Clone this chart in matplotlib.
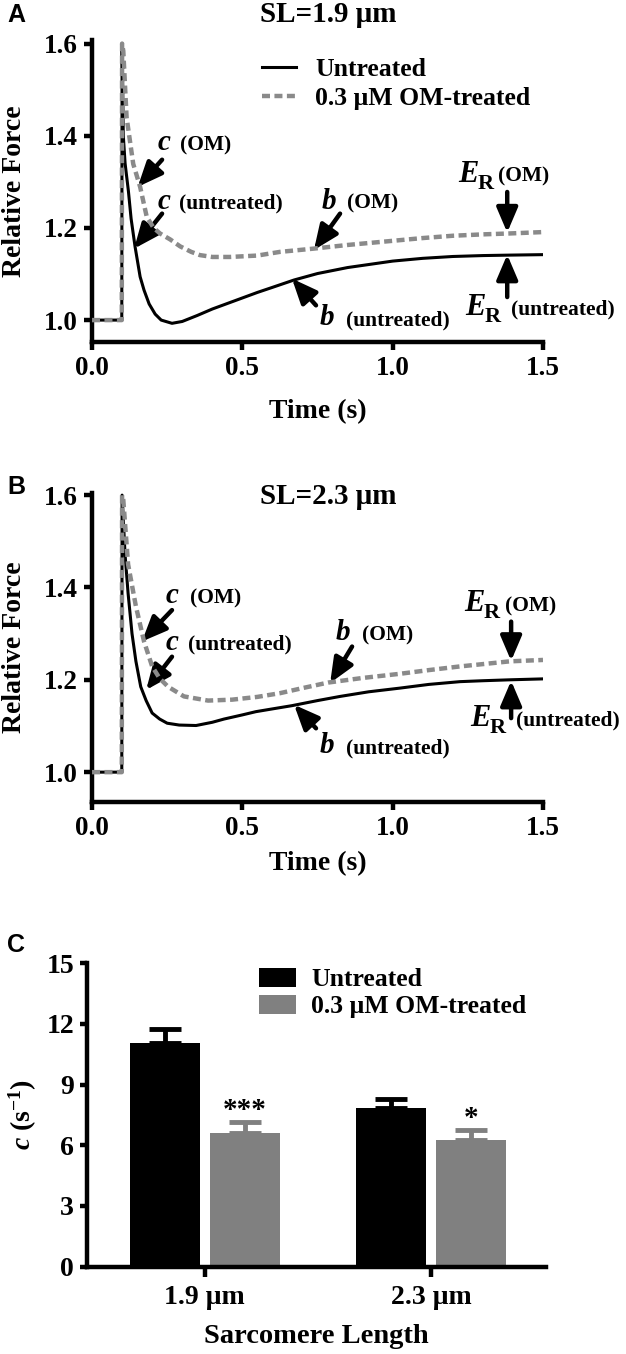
"""
Force transients after a stretch at two sarcomere lengths (A, B), untreated vs
0.3 uM OM-treated, and the rate constant c of the fast decay phase (C).
"""
import matplotlib
matplotlib.use("Agg")
import matplotlib.pyplot as plt

# ---- panel A traces, SL = 1.9 um
A_T_UN = [0, 0.099, 0.1, 0.104, 0.11, 0.121, 0.13, 0.143, 0.16, 0.173, 0.19, 0.21,
          0.23, 0.266, 0.3, 0.35, 0.4, 0.45, 0.5, 0.55, 0.6, 0.672, 0.75, 0.85, 1.0,
          1.1, 1.2, 1.3, 1.39, 1.5]
A_F_UN = [1.0, 1.0, 1.6, 1.40, 1.34, 1.28, 1.22, 1.16, 1.094, 1.065, 1.035, 1.013,
          1.0, 0.993, 0.997, 1.010, 1.024, 1.036, 1.048, 1.060, 1.071, 1.087, 1.101,
          1.114, 1.128, 1.134, 1.138, 1.140, 1.141, 1.142]
A_T_OM = [0, 0.099, 0.1, 0.104, 0.115, 0.137, 0.16, 0.182, 0.205, 0.226, 0.26, 0.293,
          0.33, 0.359, 0.4, 0.459, 0.55, 0.625, 0.736, 0.85, 1.0, 1.1, 1.2, 1.3, 1.39, 1.5]
A_F_OM = [1.0, 1.0, 1.6, 1.584, 1.44, 1.339, 1.289, 1.224, 1.20, 1.188, 1.175, 1.160,
          1.148, 1.141, 1.137, 1.137, 1.140, 1.148, 1.155, 1.163, 1.172, 1.178, 1.183,
          1.186, 1.188, 1.191]

# ---- panel B traces, SL = 2.3 um
B_T_UN = [0, 0.099, 0.1, 0.11, 0.12, 0.133, 0.146, 0.162, 0.18, 0.2, 0.225, 0.25,
          0.29, 0.346, 0.4, 0.439, 0.5, 0.545, 0.6, 0.665, 0.75, 0.825, 0.92, 1.024,
          1.12, 1.224, 1.3, 1.39, 1.5]
B_F_UN = [1.0, 1.0, 1.6, 1.47, 1.387, 1.30, 1.24, 1.185, 1.155, 1.128, 1.115, 1.106,
          1.102, 1.101, 1.108, 1.115, 1.124, 1.131, 1.137, 1.144, 1.155, 1.164, 1.174,
          1.182, 1.190, 1.196, 1.198, 1.200, 1.202]
B_T_OM = [0, 0.099, 0.1, 0.104, 0.12, 0.146, 0.173, 0.2, 0.225, 0.253, 0.306, 0.386,
          0.466, 0.55, 0.625, 0.7, 0.785, 0.9, 1.024, 1.12, 1.224, 1.3, 1.39, 1.5]
B_F_OM = [1.0, 1.0, 1.6, 1.59, 1.45, 1.359, 1.283, 1.229, 1.203, 1.185, 1.164, 1.155,
          1.157, 1.163, 1.171, 1.182, 1.194, 1.204, 1.213, 1.221, 1.229, 1.234, 1.24, 1.243]

# ---- panel C: rate constant c (s^-1), mean and SEM
SL_LABELS = ["1.9 \u03bcm", "2.3 \u03bcm"]
C_UN = [11.08, 7.83]
C_UN_ERR = [0.66, 0.45]
C_OM = [6.63, 6.27]
C_OM_ERR = [0.54, 0.49]
STARS = ["***", "*"]

SERIES = ["Untreated", "0.3 \u03bcM OM-treated"]
T_TICKS = [0.0, 0.5, 1.0, 1.5]
F_TICKS = [1.0, 1.2, 1.4, 1.6]
C_TICKS = [0, 3, 6, 9, 12, 15]

# annotation spots (data coords): letter x, text x, baseline y, arrow tail, arrow head
A_NOTES = [("c", "(OM)", 0.219, 0.293, 1.368, (0.233, 1.348), (0.152, 1.289)),
           ("c", "(untreated)", 0.219, 0.290, 1.242, (0.233, 1.231), (0.140, 1.155)),
           ("b", "(OM)", 0.765, 0.848, 1.242, (0.825, 1.231), (0.738, 1.152)),
           ("b", "(untreated)", 0.758, 0.845, 0.989, (0.745, 1.032), (0.665, 1.090))]
B_NOTES = [("c", "(OM)", 0.246, 0.326, 1.366, (0.266, 1.351), (0.166, 1.283)),
           ("c", "(untreated)", 0.246, 0.319, 1.265, (0.266, 1.250), (0.180, 1.178)),
           ("b", "(OM)", 0.811, 0.898, 1.286, (0.865, 1.272), (0.792, 1.193)),
           ("b", "(untreated)", 0.758, 0.845, 1.041, (0.745, 1.095), (0.672, 1.146))]
# E_R: E x, text x, baseline y, arrow x, tail y, head y
A_ER = [("(OM)", 1.217, 1.352, 1.300, 1.381, 1.278, 1.190),
        ("(untreated)", 1.240, 1.392, 1.012, 1.381, 1.050, 1.142)]
B_ER = [("(OM)", 1.237, 1.372, 1.348, 1.394, 1.326, 1.241),
        ("(untreated)", 1.257, 1.410, 1.100, 1.394, 1.117, 1.198)]

GREY = "#8a8a8a"
BAR_GREY = "#808080"

plt.rcParams.update({"font.family": "Liberation Serif", "font.weight": "bold",
                     "axes.labelweight": "bold",
                     "mathtext.fontset": "custom",
                     "mathtext.it": "Liberation Serif:italic:bold",
                     "mathtext.rm": "Liberation Serif:bold",
                     "mathtext.bf": "Liberation Serif:bold"})

ARROW = dict(arrowstyle="-|>,head_length=0.75,head_width=0.32", lw=3.2, color="k",
             shrinkA=0, shrinkB=0, mutation_scale=20)


def style(ax, size=19.5, ylen=6):
    for s in ("top", "right"):
        ax.spines[s].set_visible(False)
    for s in ("left", "bottom"):
        ax.spines[s].set_linewidth(3.2)
    ax.tick_params(axis="both", width=3.2, labelsize=size, pad=4.5)
    ax.tick_params(axis="y", length=ylen)
    ax.tick_params(axis="x", length=6)


def trace_panel(ax, t_un, f_un, t_om, f_om, ylim, notes, er, xlab_y):
    ax.plot(t_un, f_un, color="k", lw=2.2, zorder=3, label=SERIES[0])
    ax.plot(t_om, f_om, color=GREY, lw=3.2, dashes=(1.8, 1.0), zorder=4, label=SERIES[1])
    ax.set_xlim(0, 1.5)
    ax.set_ylim(*ylim)
    ax.set_xticks(T_TICKS, [f"{v:.1f}" for v in T_TICKS])
    ax.set_yticks(F_TICKS, [f"{v:.1f}" for v in F_TICKS])
    style(ax)
    ax.set_xlabel("Time (s)", fontsize=20, va="center")
    ax.xaxis.set_label_coords(0.5, xlab_y)
    ax.set_ylabel("Relative Force", fontsize=20, va="center")
    ax.yaxis.set_label_coords(-0.171, 0.5)
    for letter, txt, lx, tx, y, tail, head in notes:
        ax.text(lx, y, letter, fontsize=21, style="italic", va="baseline")
        ax.text(tx, y, txt, fontsize=15.5, va="baseline")
        ax.annotate("", xy=head, xytext=tail, arrowprops=ARROW)
    for txt, ex, tx, y, ax_x, y0, y1 in er:
        ax.text(ex, y, "E", fontsize=22, style="italic", va="baseline")
        ax.annotate("R", xy=(ex, y), xytext=(14, -5), textcoords="offset points",
                    fontsize=16, va="baseline")
        ax.text(tx, y, txt, fontsize=15.5, va="baseline")
        ax.annotate("", xy=(ax_x, y1), xytext=(ax_x, y0), arrowprops=ARROW)


fig = plt.figure(figsize=(6.26, 13.54), dpi=100)
axA = fig.add_axes([0.147, 0.7476, 0.7204, 0.2226])
axB = fig.add_axes([0.147, 0.4079, 0.7204, 0.2278])
axC = fig.add_axes([0.1393, 0.0645, 0.7329, 0.2241])

# ---- A
trace_panel(axA, A_T_UN, A_F_UN, A_T_OM, A_F_OM, (0.953, 1.607), A_NOTES, A_ER, -0.232)
axA.legend(loc="upper left", bbox_to_anchor=(0.378, 0.94), frameon=False,
           prop={"weight": "bold", "size": 18.5}, handlelength=1.3, handletextpad=0.75,
           borderpad=0, borderaxespad=0, labelspacing=0.22)
fig.text(0.524, 0.989, "SL=1.9 \u03bcm", fontsize=21, ha="center", va="center")

# ---- B
trace_panel(axB, B_T_UN, B_F_UN, B_T_OM, B_F_OM, (0.936, 1.604), B_NOTES, B_ER, -0.200)
fig.text(0.524, 0.6332, "SL=2.3 \u03bcm", fontsize=21, ha="center", va="center")

# ---- C
x = [0, 1]
w, off = 0.31, 0.177
xu = [i - off for i in x]
xo = [i + off for i in x]
axC.bar(xu, C_UN, w, color="k", label=SERIES[0], zorder=2)
axC.bar(xo, C_OM, w, color=BAR_GREY, label=SERIES[1], zorder=2)
axC.errorbar(xu, C_UN, yerr=[[0, 0], C_UN_ERR], fmt="none", ecolor="k",
             elinewidth=3.5, capsize=11.5, capthick=3.5, zorder=1)
axC.errorbar(xo, C_OM, yerr=[[0, 0], C_OM_ERR], fmt="none", ecolor=BAR_GREY,
             elinewidth=3.5, capsize=11.5, capthick=3.5, zorder=1)
for xi, v, e, s in zip(xo, C_OM, C_OM_ERR, STARS):
    axC.text(xi, v + e + 0.55, s, fontsize=21, ha="center", va="center")
axC.set_xlim(-0.519, 1.507)
axC.set_ylim(0, 15)
axC.set_xticks(x, SL_LABELS)
axC.set_yticks(C_TICKS)
style(axC, size=20, ylen=5)
axC.tick_params(axis="x", length=7, pad=6)
axC.set_xlabel("Sarcomere Length", fontsize=20.5, va="center")
axC.xaxis.set_label_coords(0.5, -0.231)
axC.set_ylabel("$c$ (s$^{-1}$)", fontsize=20, va="center")
axC.yaxis.set_label_coords(-0.14, 0.5)
axC.legend(loc="upper left", bbox_to_anchor=(0.374, 0.985), frameon=False,
           prop={"weight": "bold", "size": 18.5}, handlelength=1.43, handleheight=0.75,
           handletextpad=0.62, borderpad=0, borderaxespad=0, labelspacing=0.15)

for lab, y in (("A", 0.989), ("B", 0.6405), ("C", 0.302)):
    fig.text(0.026, y, lab, fontsize=18, family="Liberation Sans", weight="bold",
             ha="center", va="center")

fig.savefig("out.png", dpi=100)
